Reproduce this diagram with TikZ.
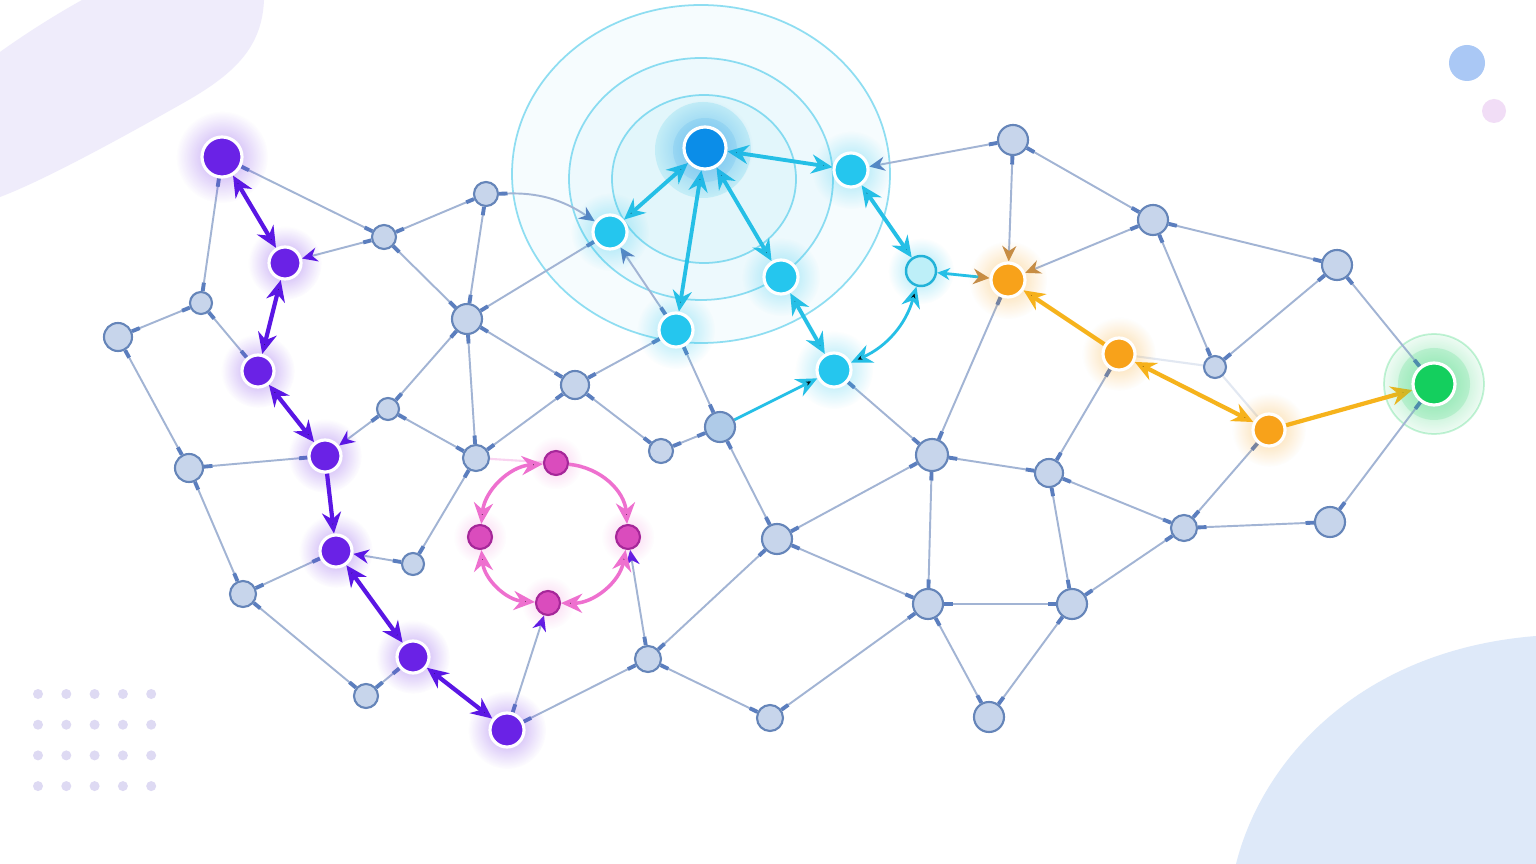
\documentclass[tikz,border=0pt]{standalone}
\usetikzlibrary{arrows.meta, shadows, fadings, backgrounds}

% colours
\definecolor{nodefill}{HTML}{C7D5EB}
\definecolor{nodeblue}{HTML}{AFCBE8}
\definecolor{nodeline}{HTML}{6585B9}
\definecolor{linkcol}{HTML}{A2B4D4}
\definecolor{tickcol}{HTML}{5B7EBE}
\definecolor{purp}{HTML}{6A22E6}
\definecolor{purparrow}{HTML}{5A16E4}
\definecolor{cyanfill}{HTML}{25C6EE}
\definecolor{cyanarrow}{HTML}{25BFE6}
\definecolor{cyanedge}{HTML}{22B2D8}
\definecolor{palecyan}{HTML}{BDEFF8}
\definecolor{hubfill}{HTML}{0B8DE8}
\definecolor{orangefill}{HTML}{F8A21A}
\definecolor{orangearrow}{HTML}{F6B31C}
\definecolor{browntip}{HTML}{C08A4A}
\definecolor{greenfill}{HTML}{14CF5E}
\definecolor{pinkfill}{HTML}{DA4CBD}
\definecolor{pinkline}{HTML}{A52799}
\definecolor{pinkarrow}{HTML}{EE70CF}
\definecolor{blobpurple}{HTML}{EFECFB}
\definecolor{blobblue}{HTML}{DEE9F9}
\definecolor{topblue}{HTML}{AAC8F5}
\definecolor{toppink}{HTML}{F1DDF6}
\definecolor{dotcol}{HTML}{DEDAF3}

\tikzfading[name=glow fade, inner color=transparent!30, outer color=transparent!100]

\tikzset{
  gray node/.style={circle, draw=nodeline, fill=nodefill, line width=0.6pt, inner sep=0pt, minimum size=#1*0.02cm},
  gray node/.default=14,
  hot node/.style 2 args={circle, draw=white, line width=0.9pt, fill=#1, inner sep=0pt, minimum size=#2*0.02cm,
    circular drop shadow={shadow xshift=0pt, shadow yshift=0pt, shadow scale=2.3, fill=#1, opacity=0.6, path fading=glow fade}},
  pink node/.style={circle, draw=pinkline, line width=0.6pt, fill=pinkfill, inner sep=0pt, minimum size=0.24cm,
    circular drop shadow={shadow xshift=0pt, shadow yshift=0pt, shadow scale=2.2, fill=pinkarrow, opacity=0.45, path fading=glow fade}},
  pale node/.style={circle, draw=cyanedge, fill=palecyan, line width=0.7pt, inner sep=0pt, minimum size=0.3cm,
    circular drop shadow={shadow xshift=0pt, shadow yshift=0pt, shadow scale=2.2, fill=cyanfill, opacity=0.6, path fading=glow fade}},
  link/.style={draw=linkcol, line width=0.55pt,
    {Rectangle[length=2.4pt,width=1.1pt,color=tickcol]}-{Rectangle[length=2.4pt,width=1.1pt,color=tickcol]}},
  linkto/.style={draw=linkcol, line width=0.55pt,
    {Rectangle[length=2.4pt,width=1.1pt,color=tickcol]}-{Stealth[length=4.4pt,width=4pt,color=#1]}},
  faint/.style={draw=#1, line width=0.6pt, opacity=0.3},
  purple arrow/.style={draw=purparrow, line width=1.2pt},
  cyan arrow/.style={draw=cyanarrow, line width=1.1pt},
  orange arrow/.style={draw=orangearrow, line width=1.2pt},
  pink arrow/.style={draw=pinkarrow, line width=1pt}
}

\begin{document}
\begin{tikzpicture}[x=0.01cm, y=-0.01cm, >={Stealth[length=6pt,width=5.4pt]}]
\useasboundingbox (0,0) rectangle (1536,864);

% backdrop
\begin{pgfonlayer}{background}
  \fill[white] (0,0) rectangle (1536,864);
  \fill[blobpurple] (0,52) .. controls (25,34) and (55,15) .. (82,0) -- (264,0)
    .. controls (262,45) and (238,72) .. (185,102) .. controls (125,136) and (45,180) .. (0,197) -- cycle;
  \fill[blobblue] (1236,864) .. controls (1262,760) and (1360,650) .. (1536,636) -- (1536,864) -- cycle;
  \fill[topblue] (1467,63) circle (18);
  \fill[toppink] (1494,111) circle (12);
  \foreach \i in {0,...,4}
    \foreach \j in {0,...,3}
      \fill[dotcol] ({38+28.3*\i},{694+30.7*\j}) circle (5);
  % pulse rings round the hub
  \fill[cyanarrow, opacity=0.04] (701,174) ellipse (189 and 169);
  \fill[cyanarrow, opacity=0.04] (701,179) ellipse (132 and 121);
  \fill[cyanarrow, opacity=0.05] (704,179) ellipse (92 and 84);
  \draw[cyanarrow, opacity=0.5, line width=0.5pt] (701,174) ellipse (189 and 169)
    (701,179) ellipse (132 and 121) (704,179) ellipse (92 and 84);
  \fill[cyanarrow, opacity=0.16] (703,150) circle (48);
  \fill[hubfill, opacity=0.1] (705,150) circle (32);
  % target rings
  \fill[greenfill, opacity=0.08] (1434,384) circle (50);
  \draw[greenfill, opacity=0.25, line width=0.5pt] (1434,384) circle (50);
  \fill[greenfill, opacity=0.15] (1434,384) circle (36);
\end{pgfonlayer}

% plain nodes
\node[gray node] (g1) at (118,337) {};
\node[gray node=11] (g2) at (201,303) {};
\node[gray node=12] (g3) at (384,237) {};
\node[gray node=12] (g4) at (486,194) {};
\node[gray node=15] (g5) at (467,319) {};
\node[gray node] (g6) at (189,468) {};
\node[gray node=11] (g7) at (388,409) {};
\node[gray node] (g8) at (575,385) {};
\node[gray node=13] (g9) at (476,458) {};
\node[gray node=13] (g10) at (243,594) {};
\node[gray node=11] (g11) at (413,564) {};
\node[gray node=12] (g12) at (366,696) {};
\node[gray node=12] (g13) at (661,451) {};
\node[gray node=15, fill=nodeblue] (g14) at (720,427) {};
\node[gray node=15] (g15) at (777,539) {};
\node[gray node=13] (g16) at (648,659) {};
\node[gray node=13] (g17) at (770,718) {};
\node[gray node=16] (g18) at (932,455) {};
\node[gray node=15] (g19) at (928,604) {};
\node[gray node=15] (g20) at (1072,604) {};
\node[gray node=15] (g21) at (989,717) {};
\node[gray node] (g22) at (1049,473) {};
\node[gray node=13] (g23) at (1184,528) {};
\node[gray node=15] (g24) at (1330,522) {};
\node[gray node=15] (g25) at (1013,140) {};
\node[gray node=15] (g26) at (1153,220) {};
\node[gray node=15] (g27) at (1337,265) {};
\node[gray node=11] (g28) at (1215,367) {};

% purple chain
\node[hot node={purp}{20}] (p1) at (222,157) {};
\node[hot node={purp}{16}] (p2) at (285,263) {};
\node[hot node={purp}{16}] (p3) at (258,371) {};
\node[hot node={purp}{16}] (p4) at (325,456) {};
\node[hot node={purp}{16}] (p5) at (336,551) {};
\node[hot node={purp}{16}] (p6) at (413,657) {};
\node[hot node={purp}{17}] (p7) at (507,730) {};

% pink loop
\node[pink node] (m1) at (556,463) {};
\node[pink node] (m2) at (628,537) {};
\node[pink node] (m3) at (548,603) {};
\node[pink node] (m4) at (480,537) {};

% cyan cluster
\node[hot node={hubfill}{21}] (hub) at (705,148) {};
\node[hot node={cyanfill}{17}] (c1) at (610,232) {};
\node[hot node={cyanfill}{17}] (c2) at (851,170) {};
\node[hot node={cyanfill}{17}] (c3) at (781,277) {};
\node[hot node={cyanfill}{17}] (c4) at (676,330) {};
\node[hot node={cyanfill}{17}] (c5) at (834,370) {};
\node[pale node] (c6) at (921,271) {};

% orange path and target
\node[hot node={orangefill}{17}] (o1) at (1008,280) {};
\node[hot node={orangefill}{16}] (o2) at (1119,354) {};
\node[hot node={orangefill}{16}] (o3) at (1269,430) {};
\node[hot node={greenfill}{21}] (t) at (1434,384) {};

\begin{pgfonlayer}{background}
  \draw[link]
    (g1) edge (g2) (g1) edge (g6) (g2) edge (p1) (g2) edge (p3)
    (p1) edge (g3) (g3) edge (g4) (g3) edge (g5) (g4) edge (g5)
    (g5) edge (c1) (g5) edge (g7) (g5) edge (g9) (g5) edge (g8)
    (g6) edge (p4) (g6) edge (g10) (g10) edge (p5) (g10) edge (g12)
    (g12) edge (p6) (g9) edge (g7) (g9) edge (g11) (g9) edge (g8)
    (g8) edge (c4) (g8) edge (g13) (g13) edge (g14) (g14) edge (c4)
    (g14) edge (g15) (g15) edge (g16) (g15) edge (g18) (g15) edge (g19)
    (g16) edge (p7) (g16) edge (g17) (g17) edge (g19) (c5) edge (g18)
    (g18) edge (g19) (g18) edge (g22) (g18) edge (o1) (g19) edge (g20)
    (g19) edge (g21) (g20) edge (g21) (g20) edge (g22) (g20) edge (g23)
    (g22) edge (g23) (g22) edge (o2) (g23) edge (o3) (g23) edge (g24)
    (g24) edge (t) (g25) edge (g26) (g26) edge (g28) (g26) edge (g27)
    (g27) edge (g28) (g27) edge (t);
  \draw[faint=linkcol] (g28) -- (o2) (g28) -- (o3);
  \draw[faint=pinkarrow] (g9) -- (m1);
  \draw[linkto=purparrow] (g3) edge (p2) (g7) edge (p4) (g11) edge (p5)
    (p7) edge (m3) (g16) edge (m2);
  \draw[linkto=tickcol] (c4) edge (c1) (g25) edge (c2) (g4) edge[bend left=18] (c1);
  \draw[linkto=browntip] (g25) edge (o1) (g26) edge (o1);

  \draw[purple arrow] (p1) edge[<->] (p2) (p2) edge[<->] (p3) (p3) edge[<->] (p4)
    (p4) edge[->] (p5) (p5) edge[<->] (p6) (p6) edge[<->] (p7);
  \draw[cyan arrow] (hub) edge[<->] (c1) (hub) edge[<->] (c4) (hub) edge[<->] (c3)
    (hub) edge[<->] (c2) (c2) edge[<->] (c6) (c3) edge[<->] (c5);
  \draw[cyan arrow, line width=0.8pt] (c6) edge[<->, bend left=25] (c5) (g14) edge[->] (c5);
  \draw[cyan arrow, line width=0.8pt, {Stealth[length=3.6pt,width=3.4pt]}-{Stealth[length=4.6pt,width=4.4pt,color=browntip]}] (c6) -- (o1);
  \draw[orange arrow] (o2) edge[->] (o1) (o2) edge[<->] (o3) (o3) edge[->] (t);
  \draw[pink arrow] (m1) edge[->, bend left=40] (m2) (m2) edge[<->, bend left=40] (m3)
    (m3) edge[<->, bend left=40] (m4) (m4) edge[<->, bend left=40] (m1);
\end{pgfonlayer}
\end{tikzpicture}
\end{document}
